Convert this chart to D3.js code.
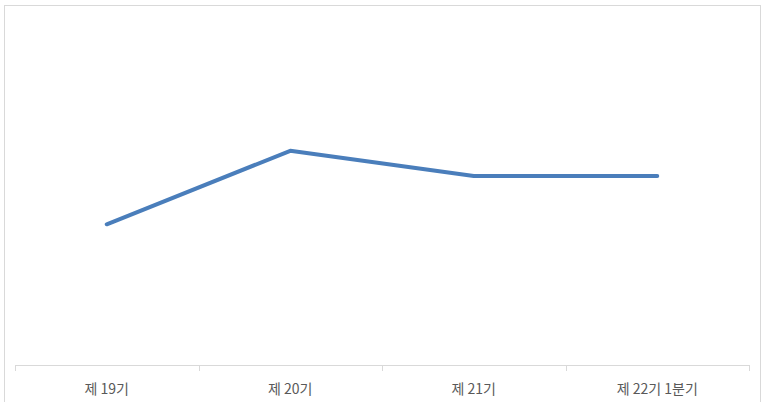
<!DOCTYPE html>
<html>
<head>
<meta charset="utf-8">
<script src="https://cdn.jsdelivr.net/npm/d3@7"></script>
<style>
  body { margin: 0; background: #fff; }
  svg { display: block; }
</style>
</head>
<body>
<div id="chart-container"></div>
<script>
// period labels on the x axis
const periods = ["제 19기", "제 20기", "제 21기", "제 22기 1분기"];
// values (no y axis shown, so relative units)
const values = [2.01, 3.06, 2.70, 2.70];
const yDomain = [0, 5];

const svgWidth = 763;
const svgHeight = 402;
const margin = { top: 15, right: 14, bottom: 37, left: 15 };
const width = svgWidth - margin.left - margin.right;
const height = svgHeight - margin.top - margin.bottom;

const root = d3.select("#chart-container")
    .append("svg")
    .attr("width", svgWidth)
    .attr("height", svgHeight);

// outer chart border (bottom edge runs off the picture)
root.append("rect")
    .attr("x", 4.5)
    .attr("y", 5.5)
    .attr("width", 756)
    .attr("height", 410)
    .attr("fill", "none")
    .attr("stroke", "#d9d9d9")
    .attr("stroke-width", 1);

const svg = root.append("g")
    .attr("transform", `translate(${margin.left},${margin.top})`);

const x = d3.scaleBand()
    .domain(periods)
    .range([0, width])
    .padding(0);

const y = d3.scaleLinear()
    .domain(yDomain)
    .range([height, 0]);

// x axis: line + ticks between categories
const axis = svg.append("g")
    .attr("transform", `translate(0,${height})`);

axis.append("line")
    .attr("x1", 0)
    .attr("x2", width)
    .attr("y1", 0.5)
    .attr("y2", 0.5)
    .attr("stroke", "#d9d9d9");

const tickPos = periods.map(p => x(p)).concat([width]);
axis.selectAll(".tick-line")
    .data(tickPos)
    .join("line")
    .attr("class", "tick-line")
    .attr("x1", d => Math.round(d) + 0.5)
    .attr("x2", d => Math.round(d) + 0.5)
    .attr("y1", 0)
    .attr("y2", 6)
    .attr("stroke", "#d9d9d9");

axis.selectAll(".tick-label")
    .data(periods)
    .join("text")
    .attr("class", "tick-label")
    .attr("x", d => x(d) + x.bandwidth() / 2)
    .attr("y", 29)
    .attr("text-anchor", "middle")
    .attr("fill", "#595959")
    .style("font-family", "'Noto Sans CJK KR', sans-serif")
    .style("font-size", "14px")
    .text(d => d);

// the series line
const line = d3.line()
    .x((d, i) => x(periods[i]) + x.bandwidth() / 2)
    .y(d => y(d));

svg.append("path")
    .datum(values)
    .attr("d", line)
    .attr("fill", "none")
    .attr("stroke", "#4a7ebb")
    .attr("stroke-width", 4)
    .attr("stroke-linecap", "round")
    .attr("stroke-linejoin", "round");
</script>
</body>
</html>
